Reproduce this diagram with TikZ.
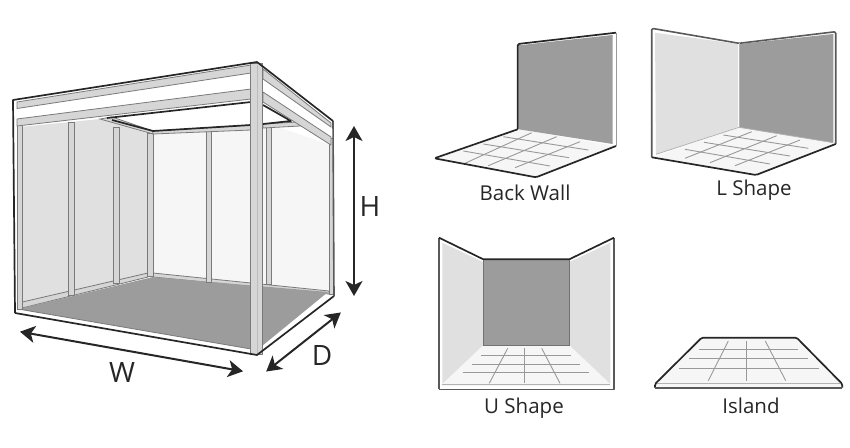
\documentclass[tikz,border=0pt]{standalone}
\usepackage{fontspec}
\setmainfont{Open Sans}
\usetikzlibrary{arrows.meta}
\definecolor{wallgray}{HTML}{E0E0E0}
\definecolor{darkwall}{HTML}{9C9C9C}
\definecolor{palefill}{HTML}{F6F6F6}
\definecolor{railgray}{HTML}{D6D6D6}
\definecolor{edgegray}{HTML}{7A7A7A}
\tikzset{
  outline/.style={draw=black!85,line width=1.7pt,line join=round},
  softline/.style={draw=black!65,line width=1.6pt,line join=round},
  rail/.style={fill=railgray,draw=edgegray,line width=0.8pt},
  gridline/.style={draw=black!40,line width=0.9pt},
  sizearrow/.style={line width=2pt,black!85,{Stealth[length=15pt,width=17pt,inset=4pt,sep=4pt]}-{Stealth[length=15pt,width=17pt,inset=4pt,sep=4pt]}},
  sizelabel/.style={font=\fontsize{28}{30}\selectfont,text=black!85,inner sep=0pt},
  typelabel/.style={font=\fontsize{20.5}{24}\selectfont,text=black!85,inner sep=0pt}
}
% upright stud: x left, x right, y top, y bottom
\newcommand\stud[4]{
  \path[rail] (#1,#3) rectangle (#2,#4);
}
\begin{document}
\begin{tikzpicture}[x=1pt,y=-1pt]
\useasboundingbox (0,0) rectangle (850,447);

% booth
\fill[palefill] (150,131) -- (272,125) -- (331,145) -- (331,292) -- (150,277) -- cycle; % back and right wall
\fill[wallgray] (20,127) -- (100,119) -- (150,134) -- (150,276) -- (18,308) -- cycle; % left wall
\path[rail] (18,303) -- (148,273) -- (148,277) -- (18,309) -- cycle;
\path[rail] (153,273) -- (329,291) -- (329,294) -- (153,277) -- cycle;
\fill[darkwall] (18,309) -- (153,277) -- (328,292) -- (262,346) -- (251,349) -- cycle; % floor
\draw[edgegray,line width=0.8pt] (18,309) -- (251,349);

\stud{68.3}{74}{122}{295}
\stud{113.3}{119.3}{127}{283}
\stud{147.3}{153.3}{133}{276}
\stud{206}{211}{130}{282}
\stud{266.7}{271.7}{126}{284}
\stud{17.3}{22.7}{108}{309}
\stud{329}{333}{138}{294}

\fill[white] (100,119) -- (251,100) -- (251,125) -- (153,131) -- cycle; % ceiling
\fill[white] (263,105) -- (291,121) -- (263,124) -- cycle;
\path[rail] (100,119) -- (112,117) -- (153,131) -- (153,134) -- cycle;
\path[rail] (153,134) -- (153,131) -- (251,125) -- (251,130) -- cycle;
\path[rail] (263,124) -- (298,122) -- (300,126) -- (263,128) -- cycle;
\draw[outline] (107,118) -- (251,102) -- (251,125) -- (153,131) -- (112,120); % opening
\draw[outline] (263,105) -- (291,121) -- (263,124);

\fill[white] (17,103) -- (251,65) -- (251,99) -- (17,126) -- cycle;
\fill[white] (263,69) -- (331,122) -- (331,145) -- (263,102) -- cycle;
\path[rail] (17,102) -- (251,65) -- (251,73) -- (17,108.5) -- cycle; % front beam
\path[rail] (17,119) -- (251,89) -- (251,99) -- (17,126) -- cycle;
\path[rail] (263,69) -- (331,123) -- (331,127) -- (263,79) -- cycle; % side beam
\path[rail] (263,92) -- (331,137) -- (331,145) -- (263,102) -- cycle;

\stud{250.7}{262.7}{63}{354}
\draw[edgegray!50,line width=0.8pt] (257,65) -- (257,354);

\draw[outline] (15,313) -- (257,355) -- (334,296); % base
\draw[softline] (334,296) -- (333,121);
\draw[outline] (15,313) -- (13,100) -- (257,62) -- (333,121); % top

\coordinate (hTop) at (354,122);
\coordinate (hBottom) at (354,300);
\coordinate (wLeft) at (16,331);
\coordinate (wRight) at (247,372);
\coordinate (dTop) at (344,310);
\coordinate (dBottom) at (263,374);
\draw[sizearrow] (hTop) -- (hBottom);
\draw[sizearrow] (wLeft) -- (wRight);
\draw[sizearrow] (dTop) -- (dBottom);
\node[sizelabel] (hLabel) at (370,207) {H};
\node[sizelabel] (wLabel) at (122,372) {W};
\node[sizelabel] (dLabel) at (322,355) {D};

% back wall
\fill[palefill] (518,129) -- (616,146) -- (536,177) -- (434.5,158.5) -- cycle;
\foreach \xa/\ya/\xb/\yb in {463.3/151/550/166,483.3/144/569/157.7,503.3/136.7/588.3/150,465/163.3/531.7/132.7,488.3/165.7/556.7/136.7,515/167.7/580/141.7}
  \draw[gridline] (\xa,\ya) -- (\xb,\yb);
\fill[darkwall] (518.7,45.3) -- (612.7,35) -- (612.7,144) -- (518.7,129.3) -- cycle;
\draw[outline,rounded corners=1.5pt] (517.7,129) -- (517.7,44) -- (616,32.7);
\draw[black!40,line width=1pt] (616,32.7) -- (616,146);
\draw[outline,rounded corners=1.5pt] (517.7,129.3) -- (434.3,158.3) -- (536,177.3) -- (616,146);
\node[typelabel] (backLabel) at (525,193) {Back Wall};

% L shape
\fill[palefill] (739,127.3) -- (835.7,144) -- (756,175) -- (651.7,157.3) -- cycle;
\foreach \xa/\ya/\xb/\yb in {685/149.3/770/164,704/142.3/790/156,723.3/135/808.3/148.3,685/158.3/751.7/131.7,710/162.7/776.7/135.7,735/165.7/800/140}
  \draw[gridline] (\xa,\ya) -- (\xb,\yb);
\fill[wallgray] (655,32.7) -- (738,44) -- (738,127) -- (656,154.3) -- cycle;
\fill[darkwall] (739,44) -- (833.3,34) -- (833.3,142.7) -- (739,127.3) -- cycle;
\draw[black!30,line width=0.8pt] (656,154.3) -- (739,127.3) -- (833.3,142.7);
\draw[softline,rounded corners=1.5pt] (651.7,157.3) -- (651.7,28.3) -- (739,43.3) -- (835.7,31.7) -- (835.7,144);
\draw[black!30,line width=0.8pt] (739,43.3) -- (739,127.3);
\draw[outline,rounded corners=1.5pt] (651.7,157.3) -- (756,175) -- (835.7,144);
\node[typelabel] (lLabel) at (754,190) {L Shape};

% U shape
\fill[palefill] (483.3,345) -- (569.3,345) -- (612,386) -- (441,386) -- cycle;
\foreach \xa/\ya/\xb/\yb in {481/355/571/355,471.7/364/580/364,462.7/372.7/589/372.7,507.7/348.3/489.3/383.3,524.3/348.3/524.3/383.3,541.7/348.3/560/383.3}
  \draw[gridline] (\xa,\ya) -- (\xb,\yb);
\fill[wallgray] (442.3,242.7) -- (483.3,262) -- (483.3,345) -- (442.3,384) -- cycle;
\fill[wallgray] (610.3,242.7) -- (569.3,262) -- (569.3,345) -- (610.3,384) -- cycle;
\draw[black!30,line width=0.8pt] (442.3,384) -- (610.3,384);
\path[fill=darkwall,draw=black!55,line width=1pt] (483.3,259.3) rectangle (569.3,345);
\draw[softline] (439,389.3) -- (439,237.7);
\draw[softline] (614,237.7) -- (614,389.3) -- (439,389.3);
\draw[outline] (439,237.7) -- (483.3,259.3) -- (569.3,259.3) -- (614,237.7);
\node[typelabel] (uLabel) at (524,408) {U Shape};

% island
\fill[palefill] (701.7,337.7) -- (796.7,337.7) -- (842.3,383.3) -- (842.3,387) -- (655,387) -- (655,383.3) -- cycle;
\foreach \xa/\ya/\xb/\yb in {699.3/349/798.3/349,689/358.3/808.3/358.3,679.3/368.3/819/368.3,728.3/341/708.3/380.7,746.7/341/746.7/380.7,765.3/341/785.7/380.7}
  \draw[gridline] (\xa,\ya) -- (\xb,\yb);
\draw[black!30,line width=0.8pt] (657,383.3) -- (840,383.3);
\draw[outline,rounded corners=1.5pt] (655,387.7) -- (655,384) -- (701.7,337.7) -- (796.7,337.7) -- (842.3,384) -- (842.3,387.7);
\draw[softline,rounded corners=1pt] (655,387.7) -- (842.3,387.7);
\node[typelabel] (islandLabel) at (751,406) {Island};
\end{tikzpicture}
\end{document}
